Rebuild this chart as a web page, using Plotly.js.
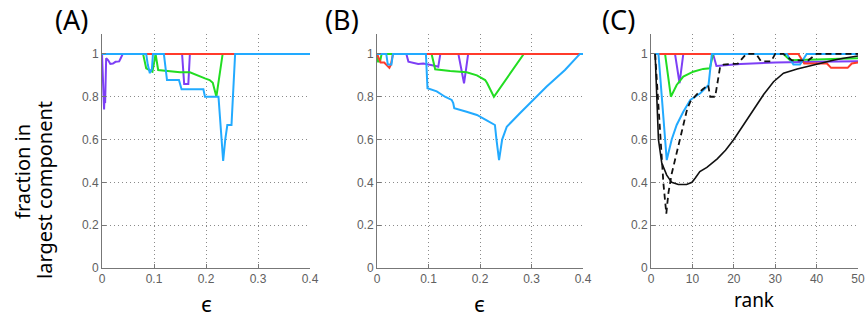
<!DOCTYPE html>
<html>
<head>
<meta charset="utf-8">
<script src="https://cdn.plot.ly/plotly-3.0.1.min.js"></script>
<style>
  html, body { margin: 0; padding: 0; background: #fff; }
  #chart { width: 866px; height: 324px; }
</style>
</head>
<body>
<div id="chart"></div>
<script>
// ---------- Panel (A): fraction in largest component vs epsilon ----------
const epsA_purple = [0, 0.002, 0.003, 0.004, 0.005, 0.006, 0.008, 0.012, 0.016, 0.021, 0.026, 0.033, 0.036, 0.04, 0.154, 0.158, 0.166, 0.169, 0.4];
const fracA_purple = [1, 0.85, 0.78, 0.74, 0.82, 0.77, 0.98, 0.97, 0.953, 0.955, 0.963, 0.965, 0.98, 1, 1, 0.86, 0.86, 1, 1];

const epsA_green = [0, 0.079, 0.085, 0.092, 0.097, 0.101, 0.103, 0.108, 0.13, 0.15, 0.169, 0.182, 0.198, 0.207, 0.213, 0.22, 0.232, 0.4];
const fracA_green = [1, 1, 0.933, 0.925, 0.917, 0.97, 1, 0.925, 0.92, 0.914, 0.914, 0.9, 0.886, 0.878, 0.865, 0.8, 1, 1];

const epsA_red = [0, 0.4];
const fracA_red = [1, 1];

const epsA_blue = [0, 0.085, 0.088, 0.092, 0.096, 0.098, 0.119, 0.125, 0.148, 0.153, 0.195, 0.198, 0.224, 0.229, 0.233, 0.237, 0.241, 0.249, 0.256, 0.4];
const fracA_blue = [1, 1, 0.95, 0.91, 0.93, 1, 1, 0.878, 0.878, 0.835, 0.835, 0.8, 0.8, 0.65, 0.5, 0.6, 0.668, 0.668, 1, 1];

// ---------- Panel (B) ----------
const epsB_purple = [0, 0.057, 0.061, 0.071, 0.08, 0.09, 0.103, 0.112, 0.119, 0.123, 0.158, 0.164, 0.169, 0.173, 0.177, 0.4];
const fracB_purple = [1, 1, 0.964, 0.96, 0.953, 0.955, 0.95, 0.945, 0.94, 1, 1, 0.92, 0.863, 0.93, 1, 1];

const epsB_green = [0, 0.002, 0.006, 0.009, 0.106, 0.113, 0.142, 0.174, 0.194, 0.21, 0.214, 0.227, 0.285, 0.4];
const fracB_green = [1, 0.965, 0.965, 1, 1, 0.928, 0.92, 0.914, 0.9, 0.878, 0.863, 0.8, 1, 1];

const epsB_red = [0, 0.007, 0.014, 0.02, 0.024, 0.027, 0.031, 0.4];
const fracB_red = [1, 0.96, 0.96, 0.945, 0.935, 0.95, 1, 1];

const epsB_blue = [0, 0.018, 0.021, 0.028, 0.031, 0.095, 0.098, 0.116, 0.132, 0.145, 0.148, 0.15, 0.174, 0.194, 0.213, 0.229, 0.232, 0.237, 0.243, 0.252, 0.277, 0.297, 0.329, 0.365, 0.394, 0.4];
const fracB_blue = [1, 1, 0.95, 0.95, 1, 1, 0.84, 0.825, 0.8, 0.785, 0.77, 0.746, 0.73, 0.715, 0.69, 0.668, 0.6, 0.504, 0.6, 0.66, 0.722, 0.77, 0.847, 0.925, 1, 1];

// ---------- Panel (C): fraction in largest component vs rank ----------
const rankC_purple = [1, 5.8, 6.9, 7.8, 15, 15.8, 21.6, 30, 40, 50];
const fracC_purple = [1, 1, 0.863, 1, 1, 0.944, 0.953, 0.96, 0.963, 0.966];

const rankC_green = [1, 3.4, 4.8, 6.2, 7.8, 10.2, 12.6, 14.2, 15, 32, 33.6, 40, 50];
const fracC_green = [1, 1, 0.8, 0.855, 0.894, 0.917, 0.93, 0.933, 1, 1, 0.97, 0.975, 0.98];

const rankC_red = [1, 35.6, 37, 42.5, 43.5, 47.5, 48.5, 50];
const fracC_red = [1, 1, 0.955, 0.955, 0.935, 0.935, 0.955, 0.96];

const rankC_blue = [1, 1.8, 3.8, 5, 6.2, 7.8, 9.5, 11.9, 13.9, 14.7, 32.8, 34.4, 36, 37.6, 50];
const fracC_blue = [1, 1, 0.504, 0.6, 0.668, 0.73, 0.785, 0.816, 0.855, 1, 1, 0.95, 0.95, 1, 1];

const rankC_dashed = [1, 2.4, 3.0, 3.7, 4.2, 5.0, 6.3, 7.5, 8.7, 9.5, 11, 12.5, 13.8, 14.3, 15.5, 16.7, 17.5, 21, 23, 25.4, 26.6, 29, 30, 32, 34, 36, 38, 40, 50];
const fracC_dashed = [1, 0.6, 0.395, 0.254, 0.35, 0.44, 0.55, 0.644, 0.74, 0.777, 0.81, 0.835, 0.855, 0.8, 0.8, 0.94, 0.95, 0.955, 1, 1, 0.965, 0.965, 1, 1, 0.97, 0.97, 0.97, 1, 1];

const rankC_solid = [1, 1.4, 1.8, 2.6, 3.8, 5, 6.6, 8.6, 9.9, 10.7, 11.8, 13.5, 16, 18, 20, 22.4, 24.8, 27.2, 29.6, 32, 35.3, 38.5, 41.7, 44, 46.5, 48, 50];
const fracC_solid = [1, 0.75, 0.6, 0.49, 0.434, 0.4, 0.39, 0.39, 0.4, 0.42, 0.45, 0.47, 0.51, 0.55, 0.6, 0.67, 0.74, 0.81, 0.87, 0.91, 0.93, 0.945, 0.962, 0.97, 0.98, 0.985, 0.99];

// Tick labels
const yTickVals = [0, 0.2, 0.4, 0.6, 0.8, 1];
const yTickText = ['0', '0.2', '0.4', '0.6', '0.8', '1'];
const epsTickVals = [0, 0.1, 0.2, 0.3, 0.4];
const epsTickText = ['0', '0.1', '0.2', '0.3', '0.4'];
const rankTickVals = [0, 10, 20, 30, 40, 50];
const rankTickText = ['0', '10', '20', '30', '40', '50'];

const panelLabels = ['(A)', '(B)', '(C)'];
const xTitles = ['\u03F5', '\u03F5', 'rank'];
const yTitleLines = ['fraction in', 'largest component'];

// ---------- styling ----------
const W = 866, H = 324;
const fx = px => px / W;
const fy = py => 1 - py / H;

const COLORS = {
  purple: '#7d3ff5',
  green: '#22dd22',
  red: '#ff3b2b',
  blue: '#22aaff',
  black: '#111111'
};

function line(x, y, color, axes, extra) {
  return Object.assign({
    x: x, y: y, type: 'scatter', mode: 'lines',
    xaxis: axes[0], yaxis: axes[1],
    line: { color: color, width: 2 },
    hoverinfo: 'skip', showlegend: false
  }, extra || {});
}

const A = ['x', 'y'], B = ['x2', 'y2'], C = ['x3', 'y3'];

const traces = [
  line(epsA_purple, fracA_purple, COLORS.purple, A),
  line(epsA_green, fracA_green, COLORS.green, A),
  line(epsA_red, fracA_red, COLORS.red, A),
  line(epsA_blue, fracA_blue, COLORS.blue, A),

  line(epsB_purple, fracB_purple, COLORS.purple, B),
  line(epsB_green, fracB_green, COLORS.green, B),
  line(epsB_red, fracB_red, COLORS.red, B),
  line(epsB_blue, fracB_blue, COLORS.blue, B),

  line(rankC_purple, fracC_purple, COLORS.purple, C),
  line(rankC_green, fracC_green, COLORS.green, C),
  line(rankC_red, fracC_red, COLORS.red, C),
  line(rankC_blue, fracC_blue, COLORS.blue, C),
  line(rankC_dashed, fracC_dashed, COLORS.black, C, { line: { color: COLORS.black, width: 1.8, dash: '6px,4px' } }),
  line(rankC_solid, fracC_solid, COLORS.black, C, { line: { color: COLORS.black, width: 1.6 } })
];

const tickFont = { family: 'Liberation Sans, Arial, sans-serif', size: 12, color: '#606060' };
const yDomain = [fy(268), fy(34)];
const gridStyle = {
  showgrid: true, gridcolor: '#8a8a8a', griddash: '1px,3px', gridwidth: 1
};

function xAxis(left, right, range, vals, text, anchor) {
  return Object.assign({
    domain: [fx(left), fx(right)], range: range, anchor: anchor,
    tickvals: vals, ticktext: text, tickfont: tickFont,
    showline: true, linecolor: '#777', linewidth: 1,
    ticks: 'inside', ticklen: 4, tickcolor: '#777',
    zeroline: false, fixedrange: true
  }, gridStyle);
}
function yAxis(anchor) {
  return Object.assign({
    domain: yDomain, range: [0, 1.093], anchor: anchor,
    tickvals: yTickVals, ticktext: yTickText, tickfont: tickFont,
    showline: true, linecolor: '#777', linewidth: 1,
    ticks: 'inside', ticklen: 4, tickcolor: '#777',
    zeroline: false, fixedrange: true
  }, gridStyle);
}

const labelFont = { family: 'Noto Sans, Open Sans, sans-serif', size: 27, color: '#000' };
const titleFont = { family: 'Noto Sans, Open Sans, sans-serif', size: 20, color: '#000' };

const annotations = [];
const labelX = [71, 342, 618];
panelLabels.forEach((t, i) => annotations.push({
  text: t, xref: 'paper', yref: 'paper', x: fx(labelX[i]), y: fy(19),
  xanchor: 'center', yanchor: 'middle', showarrow: false, font: labelFont
}));
const xTitleX = [206, 480, 754];
const xTitleY = [303, 303, 300];
xTitles.forEach((t, i) => annotations.push({
  text: t, xref: 'paper', yref: 'paper', x: fx(xTitleX[i]), y: fy(xTitleY[i]),
  xanchor: 'center', yanchor: 'middle', showarrow: false,
  font: Object.assign({}, titleFont, { size: i < 2 ? 22 : 19 })
}));
const yTitleX = [22, 44];
const yTitleY = [172, 190];
yTitleLines.forEach((t, i) => annotations.push({
  text: t, xref: 'paper', yref: 'paper', x: fx(yTitleX[i]), y: fy(yTitleY[i]),
  xanchor: 'center', yanchor: 'middle', textangle: -90, showarrow: false, font: titleFont
}));

const layout = {
  width: W, height: H,
  margin: { l: 0, r: 0, t: 0, b: 0 },
  paper_bgcolor: '#fff', plot_bgcolor: '#fff',
  showlegend: false,
  xaxis: xAxis(102, 310, [0, 0.4], epsTickVals, epsTickText, 'y'),
  yaxis: yAxis('x'),
  xaxis2: xAxis(377, 583, [0, 0.4], epsTickVals, epsTickText, 'y2'),
  yaxis2: yAxis('x2'),
  xaxis3: xAxis(651, 858, [0, 50], rankTickVals, rankTickText, 'y3'),
  yaxis3: yAxis('x3'),
  annotations: annotations
};

Plotly.newPlot('chart', traces, layout, { staticPlot: true, displayModeBar: false });
</script>
</body>
</html>
